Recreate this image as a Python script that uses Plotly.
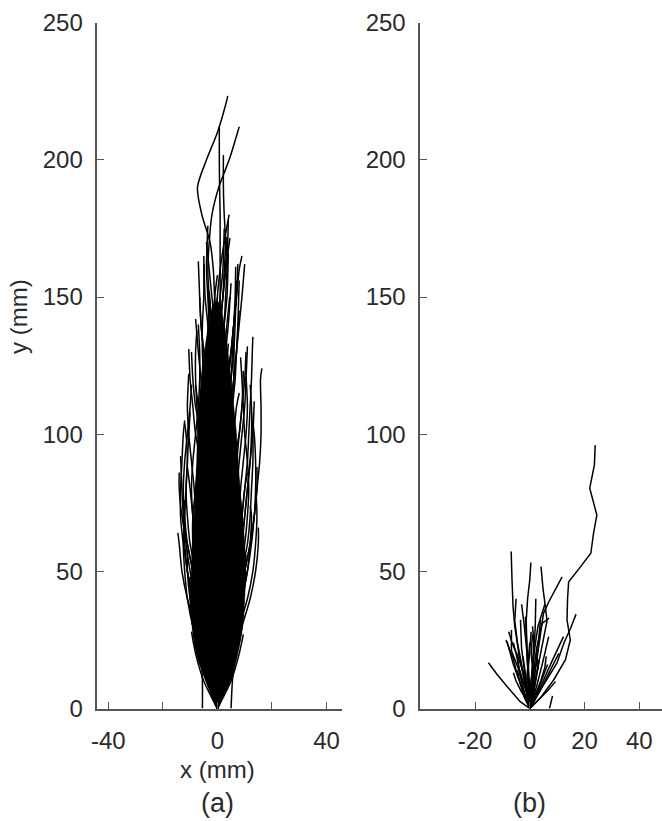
import plotly.graph_objects as go

# ---------------- Panel (a) data ----------------
# each track: x values sampled at y = 0, 10, 20, ... ; the last x sits at the track's top y (a_top)
a_tracks = [
    [0, 1, 2, 2.5, 2, 1, 0, -1, -2, -2.5, -2, -1, 0, 0.5, 0, -1, -1.5, -2.7, -5.7, -7.3, -4, 0, 3, 3.8],
    [0, -1, -2, -3, -3.5, -3, -2, -1, 0, 1, 1.5, 1, 0, -1, -2, -3, -3.5, -3, -2, 0.5, 4.3, 8],
    [0, 0.5, 1, 1.5, 1, 0, -1, -1.5, -1, 0, 0.5, 1, 1.5, 1.5, 1, 1, 1, 1, 1, 0.8, 0.7, 0.7],
    [0, -1, -2, -2, -1, 0, 1, 2, 2.5, 2, 1, 0, -0.5, 0, 1, 2, 2.5, 3, 2.5, 2.2, 2.2],
    [0, 1, 1.5, 1, 0, -1, -2, -2.5, -2, -1, 0, 1, 1.5, 1, 0, 0, 1, 2.5, 4.3],
    [0, -0.5, 0, 1, 2, 3, 3.5, 3, 2, 1, 0, -1, -1, 0, 1, 2, 3, 4.6],
    [0, -1, -2, -3, -4, -4.5, -4, -3, -2, -2, -3, -4, -5, -5.5, -5.5, -5, -5],
    [0, 1, 2, 3, 3, 2, 1, 0, 1, 2, 3, 4, 5, 5.5, 6, 6.5, 6.7],
    [0, 1, 2.5, 4, 5, 5.5, 5, 4, 3, 3.5, 4.5, 5.5, 6.5, 7, 7.5, 7.8, 8],
    [0, 1.5, 3, 4.5, 6, 7, 8, 9, 10, 11, 11.5, 12, 12.5, 12.8, 13],
    [0, 2, 4, 6, 8, 10, 12, 13.5, 14.5, 15.5, 16, 16, 15.8, 16.3],
    [0, -1, -3, -5, -7, -9, -11, -12, -12.5, -12, -11, -10, -9.5],
    [0, -2, -4, -6, -8, -10, -11.5, -12.5, -13, -13.5],
    [0, -1.5, -3, -5, -7, -9, -11, -13, -14, -14],
    [0, -2, -5, -8, -11, -13, -14, -14.5],
    [0, -3, -6, -9, -11, -12, -12.5, -12, -11.5, -11, -11.5, -12],
    [0, 2, 4, 6, 8, 10, 12, 13.5, 14.5, 14.5],
    [0, 2, 5, 8, 11, 13, 14, 14.5, 14.2],
    [0, 3, 6, 9, 12, 14, 15, 15],
    [0, 1.5, 3, 5, 7, 9, 11, 12, 12.5, 13, 13, 12.5],
    [0, 1, 2, 4, 6, 8, 10, 11, 11.5, 11, 10, 9.5, 9, 8.5],
    [0, -1, -2, -3, -5, -7, -8, -9, -9.5, -9, -8, -7, -6.5, -6.5, -7],
    [0, -0.5, -1.5, -3, -4.5, -6, -7, -7.5, -7, -6, -5, -5, -6, -7, -8],
    [0, 1, 2, 3, 2, 1, 0, -1, -2, -3, -4, -4, -3, -2, -1, 0],
    [0, 0, 1, 2, 3, 4, 5, 6, 7, 8, 9, 10, 10.5, 11],
    [0, -1, -1, 0, 1, 2, 2, 1, 0, -1, -2, -3, -3.5, -3, -2],
    [0, 1, 3, 5, 6, 7, 7, 6, 5, 4, 4, 5, 6, 7, 8],
    [0, -1, -2, -2, -1, 0, 1, 3, 5, 7, 8, 9, 9.5],
    [0, -2, -3, -4, -5, -5, -4, -3, -2, -1, 0, 1, 2, 3, 4, 5],
    [0, 0.5, 1, 0, -1, -2, -3, -4, -5, -6, -7, -7.5, -8, -8, -7.5],
    [0, 2, 3, 4, 4, 3, 2, 1, 0, 0, 1, 2, 3, 4],
    [0, -1, -3, -4, -4, -3, -2, -1, -2, -4, -6, -8, -9, -9.5],
    [0, 1, 2, 4, 6, 8, 9, 10, 11, 12, 13, 13.5],
    [0, -1, -2, -4, -6, -8, -10, -11, -11.5, -11, -10.5, -10],
    [0, 2, 4, 6, 7, 8, 9, 10, 11, 12, 12.5, 12.5, 12],
    [0, 1, 1, 2, 3, 4, 5, 5, 4, 3, 2, 1, 0, -1, -2, -3],
    [0, -1, -1, -2, -2, -1, 0, 1, 2, 3, 4, 5, 6, 6],
    [0, -3, -6, -9, -10, -10],
    [0, 3, 6, 8, 9, 9.5],
    [0, -2, -5, -8, -10, -11, -11],
    [0, 2, 5, 7, 9, 10, 10.5],
    [0, -1, -2, -3, -4, -5, -6, -7],
    [0, 1, 2, 3, 4, 5, 6, 7],
    [0, -4, -7, -9, -10],
    [0, 4, 7, 9, 9.5],
    [0, -1, -3, -5, -6, -6.5, -6, -5, -4],
    [0, 1, 3, 5, 6, 6.5, 6, 5, 4.5],
    [0, -2, -4, -5, -6, -7, -8, -9, -10, -11],
    [0, 2, 4, 5, 6, 7, 8, 9, 10, 11],
    [0, 0, -1, -2, -2, -2, -1, 0, 1, 2],
    [0, 0, 1, 2, 2, 2, 1, 0, -1, -2],
    [0, -3, -5, -7, -8, -8.5, -8, -7, -6, -6, -7],
    [0, 3, 5, 7, 8, 8.5, 8, 7, 6, 6, 7],
    [0, -1, -4, -7, -9, -11, -12, -12.5, -12],
    [0, 1, 4, 7, 9, 11, 12, 12.5, 12],
    [0, -2, -3, -3, -2, 0, 2, 4, 5, 6],
    [0, 2, 3, 3, 2, 0, -2, -4, -5, -6],
    [0, -5, -8, -9.5],
    [0, 5, 8, 9.5],
    [0, -0.5, -1, -1, 0, 1, 2, 3, 3.5, 3, 2.5, 2],
    [0, 0.5, 1, 0, -1, -2, -3, -3.5, -3, -2, -1.5, -1],
    [-5.5, -5.5, -6, -7, -8],
    [5, 5.5, 6.5, 8, 9.5, 10.5],
    [0, -2, -4, -6, -7, -7.5, -7, -6, -5, -5, -6, -7, -8],
    [0, 2, 4, 6, 7, 7.5, 7, 6, 5, 5, 6, 7, 8],
    [0, -1, -2, -4, -6, -8, -9, -9, -8, -7],
    [0, 1, 2, 4, 6, 8, 9, 9, 8, 7],
    [0, -3, -6, -8, -9, -9, -8.5, -8, -8.5, -9.5, -10.5, -11, -10.5],
    [0, 3, 6, 8, 9, 9, 8.5, 8, 8.5, 9.5, 10.5, 11, 10.5],
    [0, -1, -3, -6, -9, -11, -12.5, -13.5, -13.5, -13, -12.5, -12],
    [0, 1, 3, 6, 9, 11, 12.5, 13.5, 14, 14, 13.5, 13],
    [0, 1, 2, 2, 1, -1, -2, -3, -3, -2, -1, 1, 3, 5, 6, 7, 7.5],
    [0, -1, -2, -1, 0, 2, 3, 4, 3, 2, 0, -2, -4, -5, -6, -6.5, -7],
    [0, 0, -1, -2, -3, -3, -2, 0, 2, 3, 3, 2, 1, 0, -1, -2, -3, -4],
    [0, 1, 1, 0, -1, -1, 0, 1, 2, 1, 0, -1, -1, 0, 1, 2, 3, 3.5],
    [0, -1, -2, -3, -3, -2, -1, 0, 1, 2, 3, 4, 5, 6, 6.5, 7],
    [0, 2, 3, 3, 2, 1, 0, -1, -2, -3, -4, -5, -5, -4, -3],
    [0, -2, -3, -4, -4, -3, -2, -1, 0, 1, 2, 3, 4, 5, 6, 7, 8, 9],
    [0, 1, 0, -1, -2, -2, -1, 0, 1, 2, 2, 1, 0, -1, -1.5, -1, 0],
    [0, -1, 0, 1, 2, 2, 1, 0, -1, -2, -3, -3, -2, -1, 0, 1, 2, 2.5],
    [0, 0.5, 1.5, 2.5, 3, 2.5, 1.5, 0.5, -0.5, -1, -0.5, 0.5, 1.5, 2.5, 3.5, 4.5],
    [0, -0.5, -1.5, -2.5, -3, -2.5, -1.5, -0.5, 0.5, 1, 0.5, -0.5, -1.5, -2.5, -3.5, -4.5, -5],
    [0, 1, 2, 3, 4, 5, 6, 6, 5, 4, 3, 3, 4, 5, 6, 7],
    [0, -1, -2, -3, -4, -5, -6, -6, -5, -4, -3, -3, -4, -5, -6, -6.5],
    [0, 0, 0.5, 1, 1.5, 2, 2.5, 3, 3, 2.5, 2, 1.5, 1, 1.5, 2.5, 3.5, 4],
    [0, 0, -0.5, -1, -1.5, -2, -2.5, -3, -3, -2.5, -2, -1.5, -1, -1.5, -2.5, -3.5],
    [0, 2, 4, 5, 5, 4, 3, 3, 4, 6, 8, 9, 10, 10.5],
    [0, -2, -4, -5, -5, -4, -3, -3, -4, -6, -8, -9, -10, -10.5],
    [0, 1, 2, 1, 0, -1, 0, 1, 2, 3, 4, 5, 6, 7, 8, 9, 10],
    [0, -1, -1, 0, 1, 1, 0, -1, -2, -2, -1, 0, 1, 2, 2.5, 3, 3.5, 4],
    [0, 1, 1, 0, -1, -1, 0, 1, 2, 2, 1, 0, -1, -2, -3, -3.5, -4, -3.5],
]
a_top = [223.3, 212.1, 212, 201.8, 180, 171.5, 162, 161, 156, 135.5, 124,
         118, 92, 86, 64, 104, 88, 78, 66, 108, 128, 140, 142, 150, 132, 145,
         145, 123, 155, 138, 133, 130, 112, 108, 118, 152, 134,
         48, 47, 58, 56, 66, 68, 36, 38, 78, 77, 88, 86, 88, 86, 98, 96, 76, 74,
         84, 85, 28, 27, 108, 106, 42, 50, 118, 115, 92, 93, 122, 121, 105, 104,
         162, 163, 170, 172, 156, 148, 165,
         158, 175, 150, 165, 152, 150, 166, 152, 130, 131, 162, 178, 176]

# densest (fully overlapped) part of panel (a)
core_y = [0, 5, 10, 20, 30, 40, 50, 60, 70, 80, 90, 100, 110, 120, 130, 140, 148]
core_left = [0, -2.3, -4.3, -7.8, -9.3, -9.8, -9.6, -9.2, -8.6, -8, -7.6, -7.3, -6.8, -6, -4.8, -3, -1]
core_right = [0, 2.3, 4.8, 7.5, 9.3, 10, 10.3, 10, 9.2, 8.3, 7.6, 7, 6, 5, 3.8, 2.5, 0.5]

# ---------------- Panel (b) data ----------------
b_tracks_x = [
    [0, 4, 8.7, 13, 14.8, 13.6, 13.8, 14.2, 18, 22.3, 23.3, 24.5, 21.9, 23.6, 23.9],
    [0, -2, -4, -5.5, -6.1, -6.5, -6.8],
    [0, -0.5, -1, -1.3, -0.8, 0, 0.4],
    [0, 2, 4, 6.3, 5.7, 4.8, 4.1],
    [0, 1.5, 3.5, 5, 7, 9.3, 11.8],
    [0, 4, 9.9, 12.5, 14.8, 16.9],
    [0, -3.5, -8.3, -12, -15.1],
    [7.2, 8.3],
    [0, -2, -4, -6.7, -6.7],
    [0, -3, -6, -8.3],
    [0, -1.5, -3, -3.4],
    [0, -0.5, -1, -1.6],
    [0, 1.5, 3, 3.9],
    [0, 1, 2.5, 4.5, 7.1],
    [0, 2.5, 5, 6.9],
    [0, 3.5, 7, 10.6],
    [0, 3, 6.5, 9.4],
    [0, -1.5, -3, -4.5, -5.5, -5],
    [0, -1, -2, -4, -6.5, -7.7],
    [0, -2, -4.5, -6, -8.7],
    [0, 0.5, 1, 1.5, 1],
    [0, 0, -0.5, 0, 0.5],
    [0, 1, 2, 3, 2.5],
    [0, -1, -1.5, -2.5],
    [0, 2, 4, 5.5, 6],
    [0, -2, -3.5, -4.5],
    [0, 4, 8, 12.3],
    [0, -1, -3, -5, -6],
    [0, 1, 1.5, 2, 2.2],
    [0, -0.5, -1, -2, -3],
    [0, 0.5, 1.5, 3, 5.5],
    [0, -1, -2.5, -4, -5, -6],
    [0, 2, 3.5, 5, 6.5],
    [0, -0.5, -1.5, -2.5],
    [0, 0.5, 1, 2],
    [0, -1, -1, -0.5, 0],
    [0, 1.5, 2.5, 3.5],
    [0, -2, -3, -4, -4.5],
    [0, 0, 0.5, 1, 0.5, 1],
]
b_tracks_y = [
    [0, 4, 10.4, 17.7, 25, 32.3, 40, 46.2, 51, 56.6, 63.9, 70.5, 80.3, 88.8, 96],
    [0, 10, 20, 30, 37, 47, 57.2],
    [0, 10, 20, 32, 40, 47, 53.2],
    [0, 10, 20, 32, 37, 44, 51.7],
    [0, 10, 24, 34.7, 39, 43.2, 48],
    [0, 7, 16.5, 24, 29, 34.4],
    [0, 2.5, 8, 12.5, 16.7],
    [0, 4.6],
    [0, 6, 14, 21, 28.6],
    [0, 8, 16, 24.4],
    [0, 10, 22, 32.3],
    [0, 12, 24, 33.5],
    [0, 10, 22, 32.3],
    [0, 10, 22, 31, 33],
    [0, 8, 18, 26.2],
    [0, 6, 13, 20.1],
    [0, 3, 6.5, 9.8],
    [0, 8, 16, 24, 32, 40],
    [0, 6, 12, 18, 24, 28],
    [0, 5, 12, 18, 25],
    [0, 8, 16, 24, 30],
    [0, 7, 15, 22, 28],
    [0, 5, 10, 15, 21],
    [0, 6, 12, 19],
    [0, 5, 10, 15, 19],
    [0, 4, 9, 14],
    [0, 8, 17, 26.2],
    [0, 3, 6, 10, 13],
    [0, 10, 20, 30, 40],
    [0, 10, 20, 30, 38],
    [0, 10, 20, 30, 38],
    [0, 5, 10, 15, 20, 24],
    [0, 4, 8, 12, 16],
    [0, 5, 10, 14],
    [0, 5, 10, 16],
    [0, 6, 12, 18, 24],
    [0, 6, 12, 18],
    [0, 5, 10, 15, 20],
    [0, 5, 10, 15, 20, 27],
]

y_ticks = [0, 50, 100, 150, 200, 250]
a_xticks = [-40, -20, 0, 20, 40]
a_xticklabels = ["-40", "", "0", "", "40"]
b_xticks = [-20, 0, 20, 40]
b_xticklabels = ["-20", "0", "20", "40"]

# ---------------- build traces ----------------
ax_x, ax_y = [], []
for xs, top in zip(a_tracks, a_top):
    ys = [10 * i for i in range(len(xs) - 1)] + [top]
    ax_x += xs + [None]
    ax_y += ys + [None]

bx_x, bx_y = [], []
for xs, ys in zip(b_tracks_x, b_tracks_y):
    bx_x += xs + [None]
    bx_y += ys + [None]

fig = go.Figure()
fig.add_trace(go.Scatter(
    x=core_left + core_right[::-1], y=core_y + core_y[::-1],
    mode="lines", fill="toself", fillcolor="black",
    line=dict(color="black", width=0.5, shape="spline"),
    xaxis="x", yaxis="y", showlegend=False, hoverinfo="skip"))
fig.add_trace(go.Scatter(
    x=ax_x, y=ax_y, mode="lines",
    line=dict(color="black", width=1.5, shape="spline", smoothing=0.8),
    xaxis="x", yaxis="y", showlegend=False, hoverinfo="skip"))
fig.add_trace(go.Scatter(
    x=bx_x, y=bx_y, mode="lines",
    line=dict(color="black", width=1.5),
    xaxis="x2", yaxis="y2", showlegend=False, hoverinfo="skip"))

axis_color = "#555555"
font_color = "#2a2a2a"
tick_font = dict(family="Liberation Sans, Arial, sans-serif", size=24, color=font_color)

common = dict(showline=True, linecolor=axis_color, linewidth=1.6, ticks="inside",
              ticklen=7, tickwidth=1.4, tickcolor=axis_color, showgrid=False,
              zeroline=False, tickfont=tick_font, fixedrange=True, automargin=False)

ydom = [(821 - 708.5) / 821, (821 - 22.7) / 821]

fig.update_layout(
    width=662, height=821,
    margin=dict(l=0, r=0, t=0, b=0, pad=0, autoexpand=False),
    paper_bgcolor="white", plot_bgcolor="white",
    xaxis=dict(domain=[97.4 / 662, 341.5 / 662], range=[-44, 45.5],
               tickmode="array", tickvals=a_xticks, ticktext=a_xticklabels,
               anchor="y", ticklabelstandoff=10, **common),
    yaxis=dict(domain=ydom, range=[0, 250], tickmode="array", tickvals=y_ticks,
               anchor="x", ticklabelstandoff=8, **common),
    xaxis2=dict(domain=[420.3 / 662, 1.0], range=[-40, 48.3],
                tickmode="array", tickvals=b_xticks, ticktext=b_xticklabels,
                anchor="y2", ticklabelstandoff=10, **common),
    yaxis2=dict(domain=ydom, range=[0, 250], tickmode="array", tickvals=y_ticks,
                anchor="x2", ticklabelstandoff=8, **common),
)

label_font = dict(family="Liberation Sans, Arial, sans-serif", size=24, color=font_color)
panel_font = dict(family="Liberation Sans, Arial, sans-serif", size=27, color=font_color)
fig.add_annotation(text="y (mm)", xref="paper", yref="paper", x=18 / 662, y=1 - 317 / 821,
                   textangle=-90, showarrow=False, font=label_font,
                   xanchor="center", yanchor="middle")
fig.add_annotation(text="x (mm)", xref="x", yref="paper", x=0, y=1 - 769 / 821,
                   showarrow=False, font=label_font, xanchor="center", yanchor="middle")
fig.add_annotation(text="(a)", xref="x", yref="paper", x=0, y=1 - 803 / 821,
                   showarrow=False, font=panel_font, xanchor="center", yanchor="middle")
fig.add_annotation(text="(b)", xref="x2", yref="paper", x=0, y=1 - 803 / 821,
                   showarrow=False, font=panel_font, xanchor="center", yanchor="middle")

fig.write_html("out.html")
